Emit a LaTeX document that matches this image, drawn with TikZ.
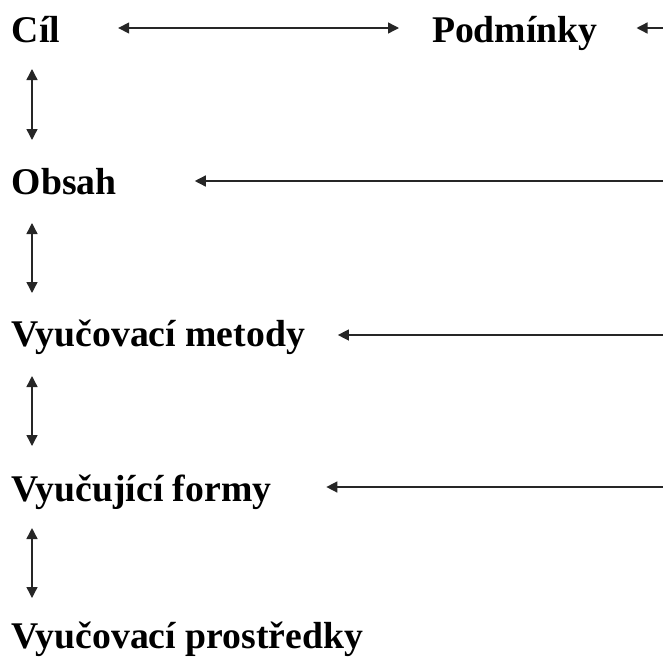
\documentclass[tikz,border=0pt]{standalone}
\usepackage{fontspec}
\setmainfont{Liberation Serif}
\usetikzlibrary{arrows.meta}

\tikzset{
  lbl/.style={anchor=base west, inner sep=0pt, outer sep=0pt,
    font=\fontsize{37.7pt}{40pt}\selectfont\bfseries},
  link/.style={line width=1.4pt, draw=black!85},
  toone/.style={link, -{Triangle[length=11pt,width=11pt]}},
  toboth/.style={link, {Triangle[length=11pt,width=11pt]}-{Triangle[length=11pt,width=11pt]}}
}

\begin{document}
\begin{tikzpicture}[x=1pt,y=-1pt]
  \useasboundingbox (0,0) rectangle (663,659);

  % labels
  \node[lbl] (cil)   at (12,42)   {Cíl};
  \node[lbl] (podm)  at (432,42)  {Podmínky};
  \node[lbl] (obsah) at (12,194)  {Obsah};
  \node[lbl] (metody) at (12,346) {Vyučovací metody};
  \node[lbl] (formy) at (12,501)  {Vyučující formy};
  \node[lbl] (prostr) at (12,648) {Vyučovací prostředky};

  % incoming ends from the right margin
  \coordinate (inP) at (663,28);
  \coordinate (inO) at (663,181);
  \coordinate (inM) at (663,335);
  \coordinate (inF) at (663,487);

  % horizontal connectors
  \draw[toboth] ([shift={(58pt,14pt)}]cil.base east) -- ([shift={(-33pt,14pt)}]podm.base west);
  \draw[toone] (inP) -- ([shift={(39pt,14pt)}]podm.base east);
  \draw[toone] (inO) -- ([shift={(78pt,13pt)}]obsah.base east);
  \draw[toone] (inM) -- ([shift={(33pt,11pt)}]metody.base east);
  \draw[toone] (inF) -- ([shift={(55pt,14pt)}]formy.base east);

  % vertical connectors
  \draw[toboth] ([shift={(20pt,-27pt)}]cil.base west)    -- ([shift={(20pt,54pt)}]obsah.base west);
  \draw[toboth] ([shift={(20pt,-29pt)}]obsah.base west)  -- ([shift={(20pt,53pt)}]metody.base west);
  \draw[toboth] ([shift={(20pt,-30pt)}]metody.base west) -- ([shift={(20pt,55pt)}]formy.base west);
  \draw[toboth] ([shift={(20pt,-27pt)}]formy.base west)  -- ([shift={(20pt,50pt)}]prostr.base west);
\end{tikzpicture}
\end{document}
